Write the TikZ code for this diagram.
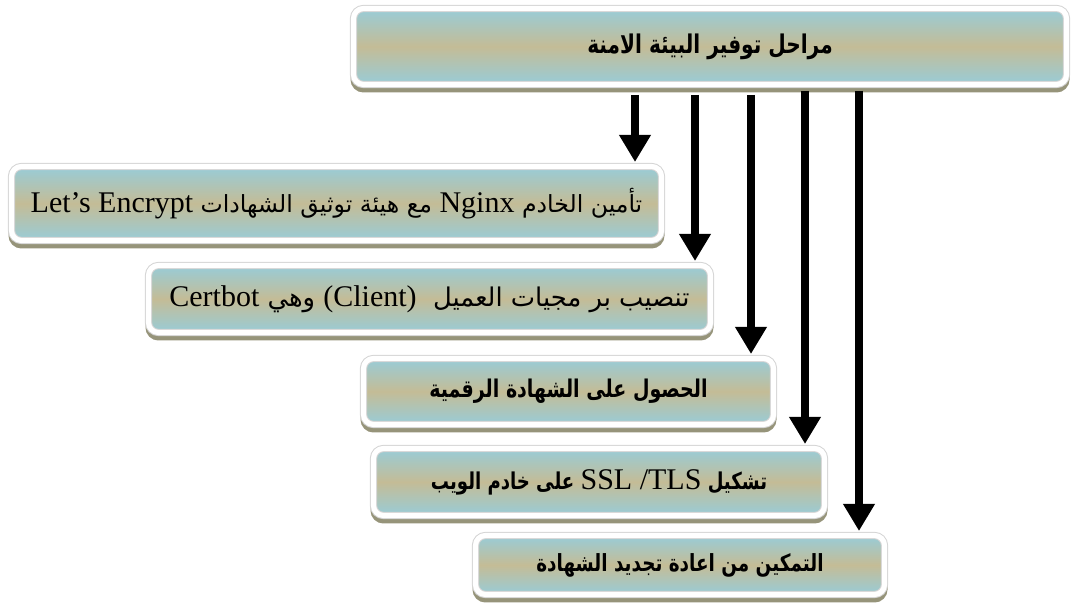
\documentclass[tikz,border=0pt]{standalone}
\usepackage{fontspec}
\setmainfont{Liberation Serif}
\newfontfamily\arabicfont[Script=Arabic]{DejaVu Sans}
\newfontfamily\arabicheavy[Script=Arabic,FakeStretch=0.78]{DejaVu Sans}
\TeXXeTstate=1
\usetikzlibrary{arrows.meta}
\definecolor{boxblue}{RGB}{152,204,216}
\definecolor{boxtan}{RGB}{196,188,150}
\definecolor{boxshade}{RGB}{150,148,122}
\definecolor{boxedge}{RGB}{212,212,212}
\newcommand{\lat}[1]{\beginL{\rmfamily\mdseries\fontsize{15}{18}\selectfont #1}\endL}
\begin{document}
\begin{tikzpicture}[x=0.5pt,y=-0.5pt,
    stage/.style={rounded corners=5pt, inner sep=0pt,
        top color=boxblue, bottom color=boxblue, middle color=boxtan,
        draw=boxedge, line width=0.5pt, double=white, double distance=2.6pt,
        preaction={fill=boxshade, draw=boxshade, line width=3pt,
            transform canvas={yshift=-2.5pt}}},
    flow/.style={line width=4pt, -{Triangle[width=15pt,length=13.5pt]}, shorten >=2pt}]
    \useasboundingbox (0,0) rectangle (1077,603);

    % the stages
    \node[stage, minimum width=356.5pt, minimum height=38pt] (top) at (710,46.5)
        {\arabicheavy\bfseries\fontsize{12.9}{15}\selectfont\beginR مراحل توفير البيئة الامنة\endR};
    \node[stage, minimum width=325pt, minimum height=37pt] (b1) at (336.5,203.5)
        {\arabicfont\fontsize{11.8}{14}\selectfont\beginR تأمين الخادم \lat{Nginx}{} مع هيئة توثيق الشهادات \lat{Let's Encrypt}\endR};
    \node[stage, minimum width=281pt, minimum height=33.5pt] (b2) at (429.5,299)
        {\arabicfont\fontsize{12.9}{15}\selectfont\beginR تنصيب بر مجيات العميل \ \lat{(Client)}{} وهي \lat{Certbot}\endR};
    \node[stage, minimum width=205pt, minimum height=33pt] (b3) at (568.5,391.5)
        {\arabicheavy\bfseries\fontsize{12.2}{15}\selectfont\beginR الحصول على الشهادة الرقمية\endR};
    \node[stage, minimum width=225.5pt, minimum height=33.5pt] (b4) at (599,482)
        {\arabicheavy\bfseries\fontsize{11.6}{15}\selectfont\beginR تشكيل \lat{SSL /TLS}{} على خادم الويب\endR};
    \node[stage, minimum width=204.5pt, minimum height=29.5pt] (b5) at (680,565)
        {\arabicheavy\bfseries\fontsize{11.8}{15}\selectfont\beginR التمكين من اعادة تجديد الشهادة\endR};

    % arrows out of the top box
    \coordinate (a1) at (635,95);
    \coordinate (a2) at (695,95);
    \coordinate (a3) at (751,95);
    \coordinate (a4) at (805,91);
    \coordinate (a5) at (859,91);
    \draw[flow] (a1) -- (a1 |- b1.north);
    \draw[flow] (a2) -- (a2 |- b2.north);
    \draw[flow] (a3) -- (a3 |- b3.north);
    \draw[flow] (a4) -- (a4 |- b4.north);
    \draw[flow] (a5) -- (a5 |- b5.north);
\end{tikzpicture}
\end{document}
